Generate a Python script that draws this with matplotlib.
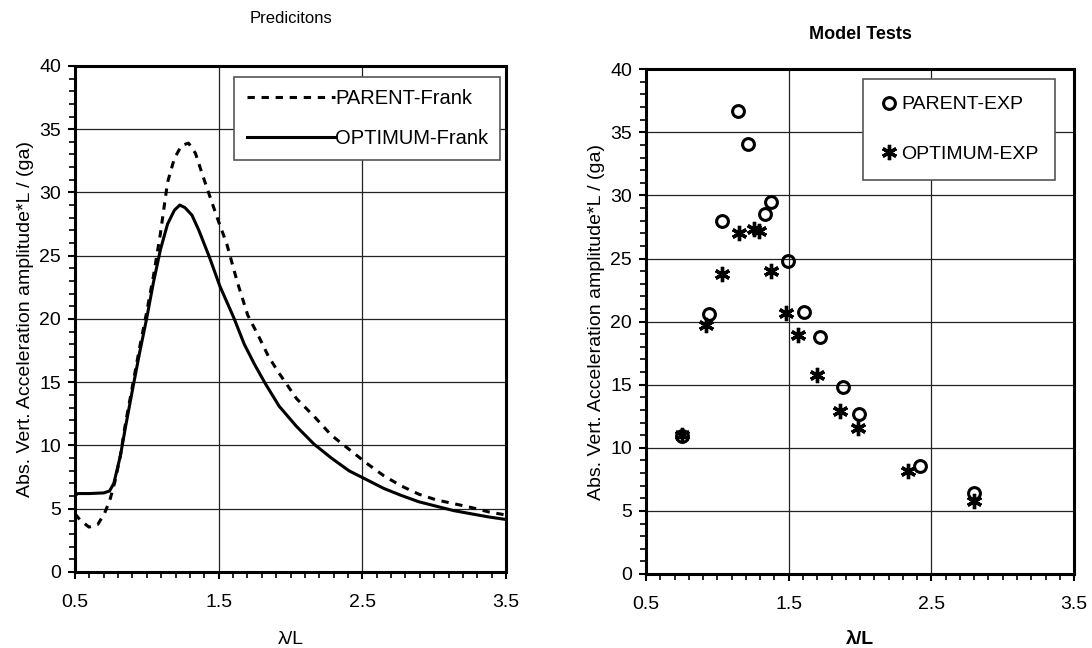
import matplotlib
matplotlib.use('Agg')
import matplotlib.pyplot as plt
import numpy as np
from matplotlib.ticker import MultipleLocator

plt.rcParams['font.family'] = ['Liberation Sans', 'DejaVu Sans']

# predictions (Frank close-fit)
opt_x = [0.50, 0.52, 0.60, 0.70, 0.74, 0.77, 0.816, 0.852, 0.90, 0.949, 0.998, 1.046,
         1.095, 1.144, 1.192, 1.229, 1.265, 1.314, 1.362, 1.435, 1.508, 1.605, 1.678,
         1.75, 1.824, 1.921, 2.042, 2.164, 2.285, 2.407, 2.529, 2.65, 2.771, 2.893,
         3.014, 3.136, 3.257, 3.379, 3.5]
opt_y = [6.05, 6.2, 6.2, 6.25, 6.4, 7.0, 9.2, 11.5, 14.4, 17.3, 20.0, 22.9,
         25.5, 27.5, 28.6, 29.0, 28.8, 28.2, 27.0, 24.9, 22.6, 20.1, 18.0,
         16.4, 14.9, 13.1, 11.5, 10.1, 9.0, 8.0, 7.3, 6.6, 6.05, 5.55,
         5.2, 4.85, 4.6, 4.35, 4.15]

par_x = [0.50, 0.536, 0.597, 0.658, 0.706, 0.743, 0.779, 0.816, 0.852, 0.90, 0.949,
         0.998, 1.046, 1.095, 1.144, 1.192, 1.241, 1.29, 1.338, 1.387, 1.435, 1.496,
         1.557, 1.63, 1.702, 1.775, 1.848, 1.921, 2.042, 2.164, 2.285, 2.407, 2.529,
         2.65, 2.771, 2.893, 3.014, 3.136, 3.257, 3.379, 3.5]
par_y = [4.6, 4.1, 3.55, 3.75, 4.65, 5.7, 7.2, 9.2, 11.8, 14.7, 17.7,
         20.5, 23.4, 26.8, 30.8, 32.7, 33.7, 33.9, 33.1, 31.4, 29.8, 27.8,
         25.9, 22.9, 20.3, 18.7, 17.0, 15.7, 13.7, 12.3, 10.8, 9.7, 8.6,
         7.6, 6.8, 6.15, 5.7, 5.4, 5.1, 4.75, 4.5]

# model tests
pexp_x = [0.75, 0.938, 1.03, 1.147, 1.213, 1.335, 1.378, 1.498, 1.607, 1.721, 1.882, 1.994, 2.422, 2.80]
pexp_y = [10.97, 20.6, 28.0, 36.7, 34.1, 28.5, 29.5, 24.8, 20.8, 18.8, 14.8, 12.7, 8.55, 6.4]

oexp_x = [0.75, 0.921, 1.03, 1.154, 1.257, 1.29, 1.378, 1.48, 1.563, 1.70, 1.86, 1.987, 2.339, 2.80]
oexp_y = [11.0, 19.7, 23.8, 27.0, 27.3, 27.2, 24.0, 20.7, 18.9, 15.8, 12.9, 11.6, 8.2, 5.8]

xticks = [0.5, 1.5, 2.5, 3.5]

fig = plt.figure(figsize=(10.92, 6.48), dpi=100)
ax1 = fig.add_axes([0.0687, 0.1173, 0.3947, 0.781])
ax2 = fig.add_axes([0.5916, 0.1142, 0.392, 0.779])

for ax in (ax1, ax2):
    ax.set_xlim(0.5, 3.5)
    ax.set_ylim(0, 40)
    ax.set_xticks(xticks)
    ax.set_xticklabels([str(t) for t in xticks])
    ax.xaxis.set_minor_locator(MultipleLocator(0.1))
    ax.yaxis.set_major_locator(MultipleLocator(5))
    ax.yaxis.set_minor_locator(MultipleLocator(1))
    ax.grid(True, which='major', color='#222222', lw=0.9)
    ax.set_axisbelow(True)
    for s in ax.spines.values():
        s.set_linewidth(2.2)
    ax.tick_params(which='major', direction='out', length=5, width=1.5, labelsize=14)
    ax.tick_params(which='minor', direction='out', length=4, width=1.2)
    ax.tick_params(axis='x', which='major', pad=10.5)
    ax.tick_params(axis='y', which='major', pad=5)
    ax.set_ylabel('Abs. Vert. Acceleration amplitude*L / (ga)', fontsize=14, labelpad=4)

ax1.plot(par_x, par_y, color='black', lw=2.2, ls=(0, (2.4, 2.2)), label='PARENT-Frank')
ax1.plot(opt_x, opt_y, color='black', lw=2.2, label='OPTIMUM-Frank')
ax1.set_xlabel('λ/L', fontsize=14, labelpad=15)
ax1.set_title('Predicitons', fontsize=12, pad=31)
leg1 = ax1.legend(loc='upper left', bbox_to_anchor=(0.37, 0.978),
                  fontsize=14.5, frameon=True, fancybox=False, edgecolor='#555555',
                  handlelength=4.4, handletextpad=0.0, labelspacing=1.05, borderpad=0.6,
                  borderaxespad=0, framealpha=1)
leg1.get_frame().set_linewidth(1.2)

ax2.plot(pexp_x, pexp_y, ls='none', marker='o', ms=8.5, mfc='none', mec='black', mew=2.2,
         label='PARENT-EXP')
ax2.plot(oexp_x, oexp_y, ls='none', marker=(6, 2, 0), ms=11, mec='black', mew=2.4,
         label='OPTIMUM-EXP')
ax2.set_xlabel('λ/L', fontsize=14, fontweight='bold', labelpad=13)
ax2.set_title('Model Tests', fontsize=13, fontweight='bold', pad=22)
leg2 = ax2.legend(loc='upper left', bbox_to_anchor=(0.507, 0.98),
                  fontsize=14, frameon=True, fancybox=False, edgecolor='#555555',
                  handlelength=1.0, handletextpad=0.1, labelspacing=1.65, borderpad=0.85,
                  borderaxespad=0, framealpha=1)
leg2.get_frame().set_linewidth(1.2)

fig.savefig('out.png', dpi=100)
